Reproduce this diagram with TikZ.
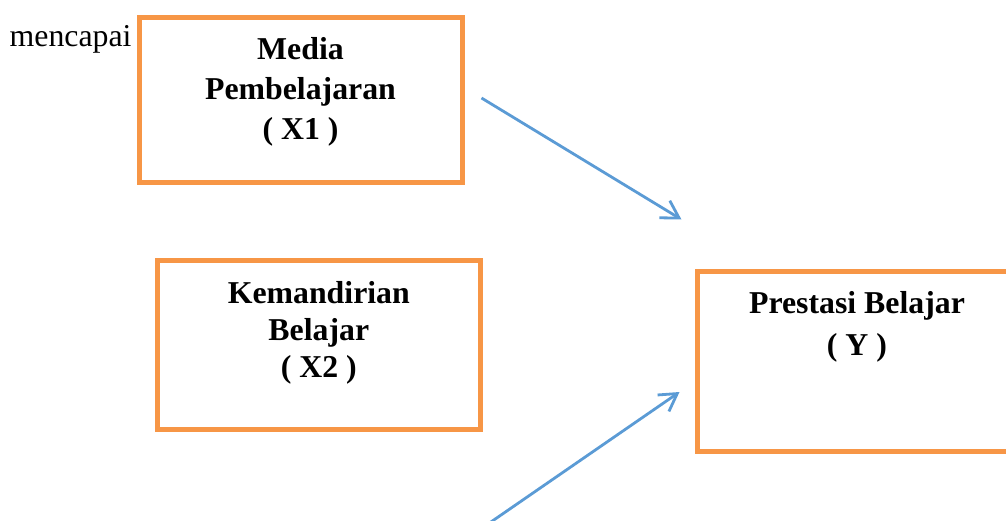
\documentclass[tikz,border=0pt]{standalone}
\usepackage{fontspec}
\setmainfont{Liberation Serif}
\usetikzlibrary{arrows.meta}

\definecolor{boxorange}{HTML}{F79646}
\definecolor{arrowblue}{HTML}{5B9BD5}

\tikzset{
	varbox/.style={draw=boxorange, line width=5pt, rectangle, inner sep=0pt},
	vartext/.style={anchor=north, inner sep=0pt, align=center, font=\bfseries},
	link/.style={draw=arrowblue, line width=2.8pt, -{Straight Barb[length=17pt,width=20pt,line width=2.8pt]}}
}

\begin{document}
\begin{tikzpicture}[x=1pt, y=-1pt]
	\path [use as bounding box, clip] (0,0) rectangle (1006,521);
	\node [anchor=base west, inner sep=0pt, font=\fontsize{31.8}{38}\selectfont] (mencapai) at (9.5,47) {mencapai};
	\node [varbox, minimum width=322.5pt, minimum height=165pt] (media) at (300.75,100.5) {};
	\node [varbox, minimum width=323.2pt, minimum height=168pt] (mandiri) at (319.1,345) {};
	\node [varbox, minimum width=320pt, minimum height=179pt] (prestasi) at (857.5,361.5) {};
	\node [vartext, font=\bfseries\fontsize{31.8}{40}\selectfont] (mediatext) at (300.5,37.5) {Media\\Pembelajaran\\( X1 )};
	\node [vartext, font=\bfseries\fontsize{31.8}{37}\selectfont] (manditext) at (318.8,281) {Kemandirian\\Belajar\\( X2 )};
	\node [vartext, font=\bfseries\fontsize{31.8}{42}\selectfont] (prestext) at (857,291) {Prestasi Belajar\\( Y )};
	\coordinate (a1) at (481.5,98);
	\coordinate (b1) at (681.5,219.5);
	\coordinate (a2) at (488,524);
	\coordinate (b2) at (679.5,392);
	\draw [link] (a1) -- (b1);
	\draw [link] (a2) -- (b2);
\end{tikzpicture}
\end{document}
